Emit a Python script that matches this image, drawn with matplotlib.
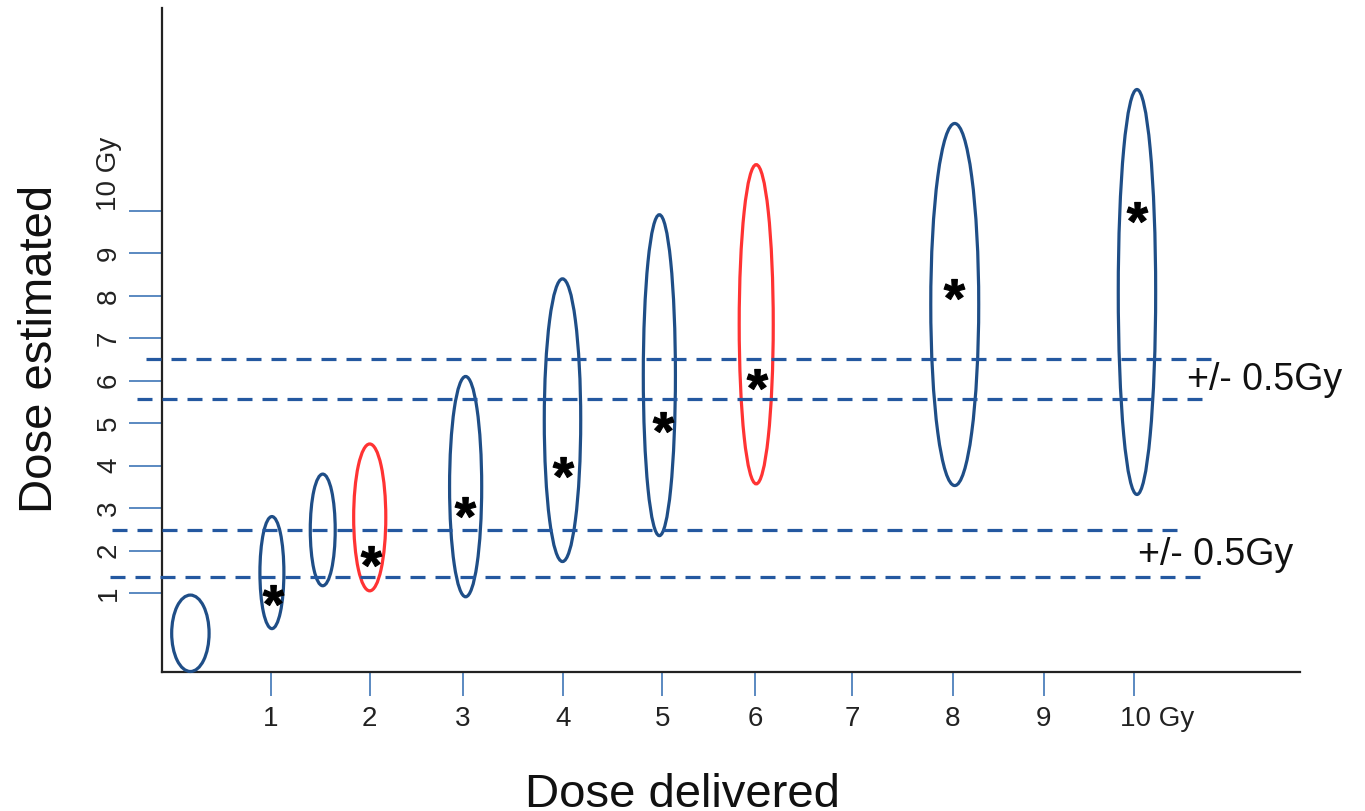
import matplotlib
matplotlib.use("Agg")
import matplotlib.pyplot as plt
from matplotlib.patches import Ellipse
from matplotlib.textpath import TextPath
from matplotlib.font_manager import FontProperties
from matplotlib.path import Path
import matplotlib.transforms as mtransforms
import numpy as np

plt.rcParams['font.family'] = ['Liberation Sans', 'DejaVu Sans']
plt.rcParams['lines.scale_dashes'] = False

# ---- data ----
x_tick_pos = [1.0, 2.03, 3.0, 4.05, 5.08, 6.05, 7.06, 8.11, 9.06, 10.0]
x_tick_labels = ['1', '2', '3', '4', '5', '6', '7', '8', '9', '10 Gy']
y_tick_pos = [1, 2, 3, 4, 5, 6, 7, 8, 9, 10]
y_tick_labels = ['1', '2', '3', '4', '5', '6', '7', '8', '9', '10 Gy']

ell_x = [0.16, 1.01, 1.54, 2.03, 3.03, 4.04, 5.05, 6.06, 8.13, 10.03]
ell_w = [0.39, 0.25, 0.26, 0.335, 0.335, 0.38, 0.335, 0.355, 0.50, 0.39]
ell_lo = [-0.85, 0.16, 1.17, 1.05, 0.91, 1.74, 2.35, 3.57, 3.53, 3.32]
ell_hi = [0.95, 2.80, 3.80, 4.51, 6.10, 8.40, 9.91, 11.09, 12.06, 12.86]
ell_red = [False, False, False, True, False, False, False, True, False, False]

star_x = [1.02, 2.04, 3.02, 4.05, 5.09, 6.07, 8.12, 10.03]
star_y = [0.95, 1.87, 3.03, 3.97, 5.03, 6.05, 8.16, 9.97]

band_y = [6.51, 5.57, 2.48, 1.38]
band_x0 = [-0.30, -0.40, -0.66, -0.68]
band_x1 = [10.81, 10.71, 10.46, 10.69]

band_text = ['+/- 0.5Gy', '+/- 0.5Gy']
band_text_x = [10.55, 10.04]
band_text_y = [5.78, 1.66]

# ---- styling ----
BLUE = '#1F4E87'
DASH = '#2458A0'
RED = '#FF3333'
TICK = '#2E6AB0'

fig = plt.figure(figsize=(13.65, 8.11), dpi=100)
ax = fig.add_axes([162/1365, 1 - 672/811, (1300-162)/1365, (672-8)/811])
ax.set_xlim(-0.136, 11.73)
ax.set_ylim(-0.862, 14.78)

for s in ['top', 'right']:
    ax.spines[s].set_visible(False)
for s in ['left', 'bottom']:
    ax.spines[s].set_linewidth(1.6)
    ax.spines[s].set_color('#222222')

# ellipses
for x, w, lo, hi, red in zip(ell_x, ell_w, ell_lo, ell_hi, ell_red):
    e = Ellipse(((x), (lo + hi) / 2), w, hi - lo, fill=False,
                edgecolor=RED if red else BLUE, linewidth=2.3,
                clip_on=False, zorder=3)
    ax.add_patch(e)

# dashed bands
for y, x0, x1 in zip(band_y, band_x0, band_x1):
    ax.plot([x0, x1], [y, y], color=DASH, linewidth=2.3,
            dashes=(10.8, 7.2), clip_on=False, zorder=4)

for t, x, y in zip(band_text, band_text_x, band_text_y):
    ax.text(x, y, t, fontsize=27, ha='left', va='baseline', color='#111111',
            zorder=5)

# asterisk markers (glyph outline, centred, without closepoly artefacts)
tp = TextPath((0, 0), '*', prop=FontProperties(family='Liberation Sans', weight='bold'))
polys = tp.to_polygons()
allv = np.vstack(polys)
c = (allv.min(axis=0) + allv.max(axis=0)) / 2
star_path = Path.make_compound_path(*[Path(p - c, closed=True) for p in polys])
ax.plot(star_x, star_y, linestyle='none', marker=star_path, markersize=15,
        color='black', markeredgewidth=0.8, zorder=6, clip_on=False)

# ticks
ax.set_xticks(x_tick_pos)
ax.set_xticklabels(x_tick_labels, fontsize=20, color='#222222')
ax.set_yticks(y_tick_pos)
ax.set_yticklabels(y_tick_labels, fontsize=20, color='#222222', rotation=90)
ax.tick_params(axis='x', direction='out', length=17.3, width=1.1, color=TICK, pad=7)
ax.tick_params(axis='y', direction='out', length=23.8, width=1.1, color=TICK, pad=5)

for lab in ax.get_yticklabels():
    lab.set_verticalalignment('center')
last_y = ax.get_yticklabels()[-1]
last_y.set_verticalalignment('bottom')
last_x = ax.get_xticklabels()[-1]
last_x.set_horizontalalignment('left')
last_x.set_transform(last_x.get_transform() +
                     mtransforms.ScaledTranslation(-14/100, 0, fig.dpi_scale_trans))

# axis titles
fig.text(40/1365, 1 - 349/811, 'Dose estimated', rotation=90, fontsize=34,
         ha='center', va='center', color='#111111')
fig.text(682/1365, 1 - 807/811, 'Dose delivered', fontsize=34,
         ha='center', va='baseline', color='#111111')

fig.savefig('out.png', dpi=100)
